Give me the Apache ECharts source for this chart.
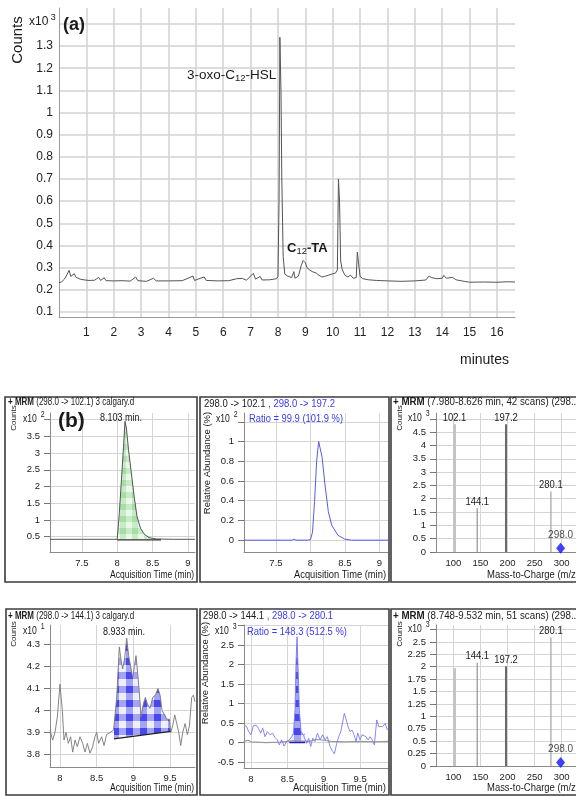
<!DOCTYPE html>
<html><head><meta charset="utf-8">
<script src="https://cdn.jsdelivr.net/npm/echarts@6/dist/echarts.min.js"></script>
<style>html,body{margin:0;padding:0;background:#fff}#c{width:576px;height:796px}</style>
</head><body><div id="c"></div>
<script>
// ================= DATA =================
// (a) total chromatogram: [minutes, counts x10^3]
const aTrace = [[0.0,0.232],[0.1,0.236],[0.2,0.248],[0.3,0.27],[0.37,0.288],[0.43,0.26],[0.5,0.268],[0.56,0.272],[0.62,0.256],[0.7,0.252],[0.8,0.247],[0.95,0.244],[1.1,0.242],[1.3,0.243],[1.45,0.256],[1.52,0.242],[1.65,0.254],[1.72,0.241],[2.0,0.240],[2.3,0.241],[2.6,0.239],[2.8,0.257],[2.88,0.241],[3.2,0.238],[3.45,0.252],[3.55,0.240],[4.0,0.240],[4.5,0.241],[4.9,0.262],[4.95,0.242],[5.3,0.258],[5.38,0.242],[5.8,0.240],[6.2,0.241],[6.5,0.250],[6.7,0.251],[6.85,0.243],[7.1,0.274],[7.18,0.248],[7.35,0.260],[7.42,0.244],[7.7,0.245],[7.95,0.25],[8.0,0.26],[8.04,0.6],[8.07,1.34],[8.1,1.34],[8.11,1.1],[8.13,1.1],[8.14,0.7],[8.16,0.7],[8.19,0.35],[8.25,0.27],[8.35,0.262],[8.5,0.255],[8.58,0.282],[8.62,0.252],[8.75,0.262],[8.85,0.31],[8.92,0.332],[9.0,0.322],[9.06,0.30],[9.15,0.29],[9.25,0.282],[9.4,0.275],[9.5,0.265],[9.6,0.258],[9.7,0.26],[9.85,0.266],[10.0,0.272],[10.1,0.275],[10.17,0.29],[10.21,0.7],[10.25,0.6],[10.29,0.33],[10.35,0.29],[10.45,0.265],[10.55,0.258],[10.65,0.266],[10.75,0.252],[10.86,0.255],[10.9,0.37],[10.97,0.366],[11.0,0.26],[11.1,0.25],[11.3,0.245],[11.6,0.242],[12.0,0.24],[12.5,0.238],[13.0,0.24],[13.4,0.244],[13.52,0.262],[13.6,0.255],[13.8,0.25],[14.0,0.252],[14.06,0.265],[14.15,0.252],[14.38,0.256],[14.5,0.245],[14.8,0.238],[15.0,0.234],[15.5,0.235],[16.0,0.234],[16.4,0.236],[16.66,0.235]];

// (b) row 1 – MRM 298.0 -> 102.1 : [min, counts x10^2]
const b1Trace = [[7.05,0.42],[7.5,0.42],[7.9,0.42],[8.0,0.42],[8.03,1.2],[8.06,2.2],[8.09,3.2],[8.11,3.95],[8.13,3.75],[8.16,3.1],[8.2,2.4],[8.24,1.7],[8.28,1.1],[8.33,0.75],[8.38,0.58],[8.45,0.47],[8.55,0.43],[8.8,0.42],[9.1,0.42]];
const b1Integration = [8.0, 8.55];
const b1Baseline = [[8.0,0.4],[8.62,0.4]];
const b1PeakLabel = '8.103 min.';

// (b) row 1 – qualifier overlay: [min, relative abundance x10^2]
const b2Trace = [[7.04,0],[7.5,0],[7.58,0],[7.6,0.008],[7.62,0],[7.73,0],[7.76,0.01],[7.79,0],[7.95,0],[8.0,0.005],[8.03,0.08],[8.06,0.39],[8.09,0.8],[8.12,1.0],[8.17,0.84],[8.21,0.57],[8.26,0.29],[8.31,0.15],[8.4,0.05],[8.5,0.01],[8.6,0],[9.13,0]];
const b2Title = ['298.0 -> 102.1', ' , 298.0 -> 197.2'];
const b2Ratio = 'Ratio = 99.9 (101.9 %)';

// (b) row 1 – product ion spectrum: m/z and counts x10^3
const b3Mz = [102.1, 144.1, 197.2, 280.1];
const b3Counts = [4.8, 1.64, 4.8, 2.27];
const b3Labelled = [true, true, true, true];
const b3Precursor = [298.0, 0.14];

// (b) row 2 – MRM 298.0 -> 144.1 : [min, counts x10^1]
const b4Trace = [[7.864,3.91],[7.9,3.865],[7.932,3.9],[7.964,3.97],[8.0,4.12],[8.032,4.0],[8.055,3.865],[8.082,3.9],[8.114,3.85],[8.145,3.88],[8.173,3.81],[8.205,3.865],[8.236,3.835],[8.273,3.88],[8.309,3.85],[8.341,3.81],[8.373,3.85],[8.409,3.805],[8.445,3.835],[8.477,3.88],[8.5,3.9],[8.527,3.85],[8.568,3.88],[8.6,3.84],[8.636,3.89],[8.682,3.9],[8.727,3.91],[8.736,3.93],[8.773,4.06],[8.809,4.29],[8.832,4.23],[8.855,4.19],[8.882,4.24],[8.909,4.33],[8.936,4.25],[8.964,4.2],[8.991,4.15],[9.014,4.2],[9.036,4.25],[9.059,4.17],[9.082,4.08],[9.105,3.97],[9.136,4.03],[9.164,4.06],[9.191,4.03],[9.227,4.01],[9.264,4.06],[9.3,4.07],[9.336,4.1],[9.364,4.07],[9.391,4.0],[9.418,4.0],[9.455,3.96],[9.491,3.96],[9.509,3.9],[9.536,3.93],[9.564,3.98],[9.591,3.94],[9.618,3.9],[9.645,3.84],[9.673,3.9],[9.705,3.94],[9.736,3.89],[9.764,3.93],[9.795,4.06],[9.818,4.07],[9.84,4.04]];
const b4Integration = [8.736, 9.509];
const b4Baseline = [[8.736,3.87],[9.509,3.905]];
const b4PeakLabel = '8.933 min.';

// (b) row 2 – qualifier overlay: [min, relative abundance x10^3]
const b5Trace = [[7.908,0.45],[7.94,0.41],[7.968,0.28],[8.0,0.2],[8.032,0.43],[8.069,0.45],[8.101,0.37],[8.133,0.24],[8.161,0.37],[8.193,0.15],[8.225,0.28],[8.261,0.2],[8.298,0.24],[8.33,0.13],[8.362,0.07],[8.39,-0.06],[8.422,0.07],[8.454,-0.09],[8.491,0.03],[8.528,0.07],[8.56,0.15],[8.583,0.24],[8.606,0.84],[8.619,2.03],[8.633,2.71],[8.647,1.94],[8.665,0.84],[8.688,0.28],[8.72,0.2],[8.743,0.24],[8.766,-0.02],[8.794,0.11],[8.821,-0.1],[8.849,0.11],[8.881,0.03],[8.913,0.24],[8.95,0.07],[8.986,0.2],[9.018,0.07],[9.05,0.15],[9.087,-0.1],[9.124,-0.23],[9.147,-0.29],[9.179,-0.02],[9.206,0.15],[9.234,0.28],[9.261,0.24],[9.284,0.75],[9.307,0.79],[9.335,0.41],[9.362,0.28],[9.39,0.32],[9.417,0.2],[9.445,0.03],[9.468,0.24],[9.5,0.07],[9.528,0.2],[9.555,0.24],[9.583,0.15],[9.61,0.07],[9.638,0.15],[9.665,0.07],[9.697,-0.06],[9.729,0.58],[9.757,0.41],[9.784,0.45],[9.812,0.41],[9.844,0.49],[9.876,0.32]];
const b5Reference = [[7.9,0.03],[7.96,0.06],[8.0,0.02],[8.2,0.0],[8.4,0.01],[8.5,0.03],[8.6,0.05],[8.7,0.04],[8.8,0.03],[8.9,0.08],[9.0,0.06],[9.1,0.03],[9.3,0.02],[9.5,0.03],[9.7,0.02],[9.89,0.03]];
const b5Integration = [8.528, 8.743];
const b5Baseline = [[8.528,0],[8.743,0]];
const b5Title = ['298.0 -> 144.1', ' , 298.0 -> 280.1'];
const b5Ratio = 'Ratio = 148.3 (512.5 %)';

// (b) row 2 – product ion spectrum
const b6Mz = [102.1, 144.1, 197.2, 280.1];
const b6Counts = [1.97, 2.08, 2.01, 2.59];
const b6Labelled = [false, true, true, true];
const b6Precursor = [298.0, 0.07];

// ================= STYLE / HELPERS =================
const FA = "'Liberation Sans',Arial,sans-serif";
const BLUE = '#3a3af0';

function gingham(dark, mid, light, s) {
  const c = document.createElement('canvas'); c.width = c.height = 2 * s;
  const g = c.getContext('2d');
  g.fillStyle = light; g.fillRect(0, 0, 2 * s, 2 * s);
  g.fillStyle = mid; g.fillRect(s, 0, s, s); g.fillRect(0, s, s, s);
  g.fillStyle = dark; g.fillRect(0, 0, s, s);
  return { image: c, repeat: 'repeat' };
}
const greenFill = gingham('#a6dea6', '#c6ecc6', '#eaf8ea', 6);
const blueFill = gingham('#4848ec', '#a4a4f4', '#eeeefe', 7);

const mctx = document.createElement('canvas').getContext('2d');
function fontOf(p) { return (p.bold ? 'bold ' : '') + p.size + 'px ' + FA; }
// places text pieces in a row; o.w = target total width, o.s = fixed horizontal scale, o.align
function fit(x, y, parts, o) {
  o = o || {};
  let tot = 0;
  parts.forEach(function (p) { mctx.font = fontOf(p); p._w = mctx.measureText(p.t).width; tot += p._w; });
  const s = o.w ? o.w / tot : (o.s || 1);
  let cx = o.align === 'right' ? x - tot * s : x;
  return parts.map(function (p) {
    const el = { type: 'text', x: cx, y: y + (p.dy || 0), scaleX: s, z: 50,
      style: { text: p.t, font: fontOf(p), fill: p.color || '#1a1a1a', align: 'left', verticalAlign: 'middle' } };
    cx += p._w * s;
    return el;
  });
}
function vtxt(x, y, t, size) {
  return { type: 'text', x: x, y: y, rotation: Math.PI / 2, z: 50,
    style: { text: t, font: size + 'px ' + FA, fill: '#1a1a1a', align: 'center', verticalAlign: 'middle' } };
}
function near(v, w) { return Math.abs(v - w) < 1e-6; }

function xAx(gi, min, max, step, o) {
  o = o || {};
  return { type: 'value', gridIndex: gi, min: min, max: max, minInterval: step, maxInterval: step,
    axisLine: { show: true, onZero: false, lineStyle: { color: o.axisColor || '#8a8a8a', width: 1 } },
    axisTick: { show: false },
    splitLine: { show: true, showMinLine: false, showMaxLine: false,
      lineStyle: { color: o.gridColor || '#d4d4d4', width: o.gridWidth || 1 } },
    axisLabel: { fontFamily: FA, fontSize: o.fs || 9.5, color: '#222', margin: o.margin || 6,
      showMinLabel: false, showMaxLabel: false } };
}
function yAx(gi, min, max, step, hide, o) {
  o = o || {};
  return { type: 'value', gridIndex: gi, min: min, max: max, minInterval: step, maxInterval: step,
    axisLine: { show: true, onZero: false, lineStyle: { color: o.axisColor || '#8a8a8a', width: 1 } },
    axisTick: { show: o.ticks !== false, length: 6, lineStyle: { color: '#777' } },
    splitLine: { show: true, showMinLine: false, showMaxLine: false,
      lineStyle: { color: o.gridColor || '#d4d4d4', width: o.gridWidth || 1 } },
    axisLabel: { fontFamily: FA, fontSize: o.fs || 9.5, color: '#222', margin: o.margin || 10,
      showMinLabel: !!o.showMin, showMaxLabel: false,
      formatter: function (v) { return (hide != null && near(v, hide)) ? '' : String(+v.toFixed(3)); } } };
}
function lineS(gi, data, color, width, z) {
  return { type: 'line', xAxisIndex: gi, yAxisIndex: gi, data: data, symbol: 'none', showSymbol: false,
    silent: true, z: z || 3, lineStyle: { color: color, width: width } };
}
function fillS(gi, trace, win, base, fill) {
  return { type: 'custom', xAxisIndex: gi, yAxisIndex: gi, silent: true, z: 2, data: [0],
    renderItem: function (p, api) {
      const pts = [api.coord(base[0])];
      trace.forEach(function (d) { if (d[0] >= win[0] - 1e-9 && d[0] <= win[1] + 1e-9) pts.push(api.coord(d)); });
      pts.push(api.coord(base[1]));
      return { type: 'polygon', shape: { points: pts }, style: { fill: fill, stroke: null } };
    } };
}
function sticks(gi, mz, cnt, lab, colors, widths) {
  return { type: 'custom', xAxisIndex: gi, yAxisIndex: gi, silent: true, z: 3,
    data: mz.map(function (m, i) { return [m, cnt[i], i]; }), encode: { x: 0, y: 1 },
    renderItem: function (p, api) {
      const i = api.value(2);
      const top = api.coord([api.value(0), api.value(1)]);
      const bot = api.coord([api.value(0), 0]);
      const ch = [{ type: 'line', shape: { x1: top[0], y1: top[1], x2: bot[0], y2: bot[1] },
        style: { stroke: colors[i], lineWidth: widths[i] } }];
      if (lab[i]) ch.push({ type: 'text', x: top[0], y: top[1] - 1, scaleX: 0.9,
        style: { text: api.value(0).toFixed(1), font: '10.5px ' + FA, fill: '#1a1a1a', align: 'center', verticalAlign: 'bottom' } });
      return { type: 'group', children: ch };
    } };
}
function diamond(gi, pt) {
  return { type: 'scatter', xAxisIndex: gi, yAxisIndex: gi, silent: true, z: 4, data: [pt],
    symbol: 'diamond', symbolSize: [9, 11], itemStyle: { color: '#1010ff' },
    label: { show: true, position: 'top', distance: 3, fontFamily: FA, fontSize: 10, color: '#1a1a1a',
      formatter: function (p) { return p.value[0].toFixed(1); } } };
}
const stickColors = ['#c4c4c4', '#9a9a9a', '#5a5a5a', '#a8a8a8'];
const stickWidths = [3, 1.3, 1.8, 1.3];

// ================= OPTION =================
const grids = [
  { left: 59, top: 8, width: 456, height: 309 },     // a
  { left: 50, top: 413, width: 145, height: 139 },   // b1
  { left: 244, top: 413, width: 144, height: 139 },  // b2
  { left: 436, top: 413, width: 140, height: 139 },  // b3
  { left: 50, top: 625, width: 145, height: 142 },   // b4
  { left: 244, top: 625, width: 144, height: 143 },  // b5
  { left: 436, top: 625, width: 140, height: 141 }   // b6
];

const xAxes = [
  xAx(0, 0, 16.66, 1, { fs: 12, margin: 10, gridColor: '#d2d2d2', gridWidth: 1.5, axisColor: '#999' }),
  xAx(1, 7.05, 9.1, 0.5),
  xAx(2, 7.036, 9.126, 0.5),
  xAx(3, 68, 326.4, 50),
  xAx(4, 7.864, 9.84, 0.5),
  xAx(5, 7.904, 9.884, 0.5),
  xAx(6, 68, 326.4, 50)
];
const yAxes = [
  yAx(0, 0.077, 1.472, 0.1, 1.4, { fs: 12, margin: 6, ticks: false, gridColor: '#d2d2d2', gridWidth: 1.5, axisColor: '#999' }),
  yAx(1, 0.04, 4.2, 0.5, 4),
  yAx(2, -0.12, 1.29, 0.2, 1.2),
  yAx(3, 0, 5.22, 0.5, 5, { showMin: true }),
  yAx(4, 3.742, 4.39, 0.1, null),
  yAx(5, -0.65, 3.01, 0.5, 3),
  yAx(6, 0, 2.84, 0.25, 2.75, { showMin: true })
];

const series = [
  lineS(0, aTrace, '#555', 1),
  fillS(1, b1Trace, b1Integration, b1Baseline, greenFill),
  lineS(1, b1Trace, '#555', 1),
  lineS(1, b1Baseline, '#333', 1.3, 4),
  lineS(2, b2Trace, '#5a5ae6', 1),
  sticks(3, b3Mz, b3Counts, b3Labelled, stickColors, stickWidths),
  diamond(3, b3Precursor),
  fillS(4, b4Trace, b4Integration, b4Baseline, blueFill),
  lineS(4, b4Trace, '#777', 0.9),
  lineS(4, b4Baseline, '#222', 1.3, 4),
  lineS(5, b5Reference, '#9a9a9a', 1.2),
  fillS(5, b5Trace, b5Integration, b5Baseline, blueFill),
  lineS(5, b5Trace, '#7a7af2', 0.9),
  lineS(5, b5Baseline, '#2020c0', 1.5, 4),
  sticks(6, b6Mz, b6Counts, b6Labelled, stickColors, stickWidths),
  diamond(6, b6Precursor)
];

function box(x, y, w, h) {
  return { type: 'rect', shape: { x: x, y: y, width: w, height: h }, z: 40,
    style: { fill: null, stroke: '#3c3c3c', lineWidth: 1.6 } };
}
function x10(x, y, exp) {
  return fit(x, y, [{ t: 'x10', size: 10.5 }, { t: '  ' + exp, size: 8.5, dy: -4 }], { s: 0.82 });
}
const TS = 0.8; // horizontal scale of the instrument header texts

let g = [];
// panel (a)
g.push(vtxt(18, 40, 'Counts', 15));
g = g.concat(fit(29, 22, [{ t: 'x10', size: 12 }, { t: ' 3', size: 9, dy: -4 }]));
g = g.concat(fit(63, 25, [{ t: '(a)', size: 18, bold: true }]));
g = g.concat(fit(187, 75, [{ t: '3-oxo-C', size: 13.5 }, { t: '12', size: 9.5, dy: 3 }, { t: '-HSL', size: 13.5 }]));
g = g.concat(fit(287, 248, [{ t: 'C', size: 13, bold: true }, { t: '12', size: 9.5, dy: 3 }, { t: '-TA', size: 13, bold: true }]));
g = g.concat(fit(460, 360, [{ t: 'minutes', size: 14 }]));

// boxes
g.push(box(5, 397, 192, 185), box(200, 397, 189, 185), box(391, 397, 192, 185));
g.push(box(6, 609, 191, 186), box(200, 609, 189, 186), box(391, 609, 192, 186));

// row 1
g = g.concat(fit(8, 402, [{ t: '+ MRM', size: 10, bold: true }, { t: ' (298.0 -> 102.1) 3 calgary.d', size: 10 }], { s: TS }));
g.push(vtxt(14, 418, 'Counts', 8));
g = g.concat(x10(23, 419, '2'));
g = g.concat(fit(58, 421, [{ t: '(b)', size: 21, bold: true }]));
g = g.concat(fit(100, 418, [{ t: b1PeakLabel, size: 10.5 }], { w: 42 }));
g = g.concat(fit(194, 575, [{ t: 'Acquisition Time (min)', size: 10.5 }], { w: 84, align: 'right' }));

g = g.concat(fit(204, 404, [{ t: b2Title[0], size: 10 }, { t: b2Title[1], size: 10, color: BLUE }], { w: 131 }));
g.push(vtxt(207, 463, 'Relative Abundance (%)', 9.5));
g = g.concat(x10(216, 419, '2'));
g = g.concat(fit(249, 419, [{ t: b2Ratio, size: 10.5, color: BLUE }], { w: 94 }));
g = g.concat(fit(386, 575, [{ t: 'Acquisition Time (min)', size: 10.5 }], { w: 92, align: 'right' }));

g = g.concat(fit(393, 402, [{ t: '+ MRM', size: 10, bold: true }, { t: ' (7.980-8.626 min, 42 scans) (298...', size: 10 }], { w: 186 }));
g.push(vtxt(400, 418, 'Counts', 8));
g = g.concat(x10(408, 418, '3'));
g = g.concat(fit(487, 575, [{ t: 'Mass-to-Charge (m/z)', size: 10.5 }], { w: 92 }));

// row 2
g = g.concat(fit(8, 616, [{ t: '+ MRM', size: 10, bold: true }, { t: ' (298.0 -> 144.1) 3 calgary.d', size: 10 }], { s: TS }));
g.push(vtxt(14, 634, 'Counts', 8));
g = g.concat(x10(23, 631, '1'));
g = g.concat(fit(103, 632, [{ t: b4PeakLabel, size: 10.5 }], { w: 42 }));
g = g.concat(fit(194, 788, [{ t: 'Acquisition Time (min)', size: 10.5 }], { w: 84, align: 'right' }));

g = g.concat(fit(203, 616, [{ t: b5Title[0], size: 10 }, { t: b5Title[1], size: 10, color: BLUE }], { w: 130 }));
g.push(vtxt(205, 673, 'Relative Abundance (%)', 9.5));
g = g.concat(x10(215, 631, '3'));
g = g.concat(fit(247, 632, [{ t: b5Ratio, size: 10.5, color: BLUE }], { w: 100 }));
g = g.concat(fit(386, 788, [{ t: 'Acquisition Time (min)', size: 10.5 }], { w: 93, align: 'right' }));

g = g.concat(fit(393, 616, [{ t: '+ MRM', size: 10, bold: true }, { t: ' (8.748-9.532 min, 51 scans) (298...', size: 10 }], { w: 186 }));
g.push(vtxt(400, 634, 'Counts', 8));
g = g.concat(x10(408, 629, '3'));
g = g.concat(fit(487, 788, [{ t: 'Mass-to-Charge (m/z)', size: 10.5 }], { w: 92 }));

const chart = echarts.init(document.getElementById('c'), null, { renderer: 'canvas' });
chart.setOption({
  animation: false,
  backgroundColor: '#fff',
  grid: grids,
  xAxis: xAxes,
  yAxis: yAxes,
  series: series,
  graphic: { elements: g }
});
</script></body></html>
